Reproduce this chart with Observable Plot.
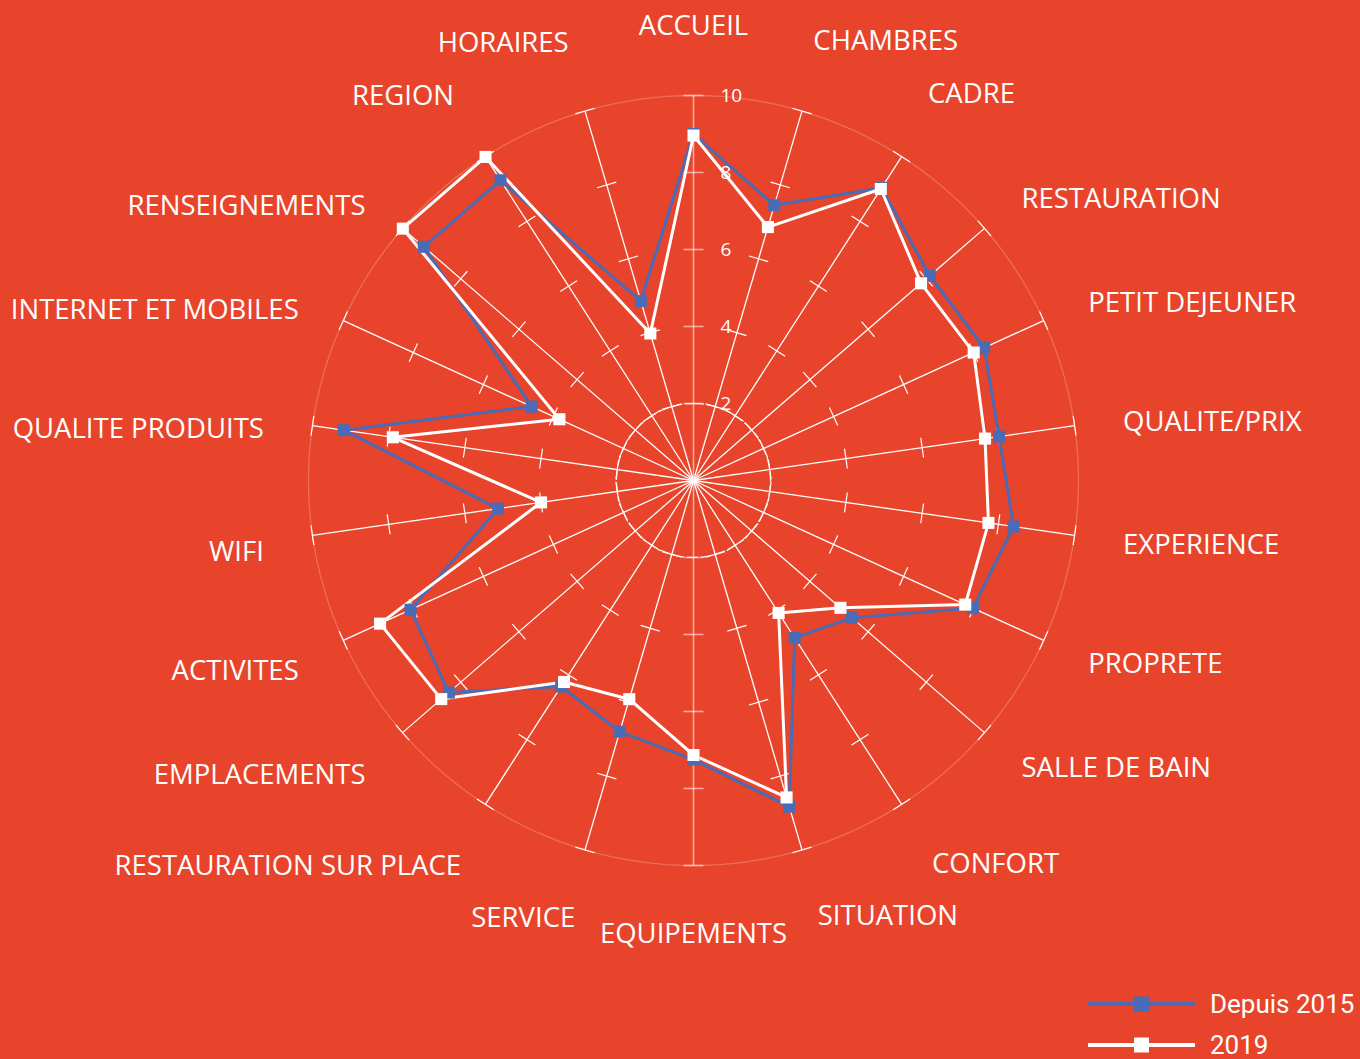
<!DOCTYPE html>
<html><head><meta charset="utf-8">
<script src="https://cdn.jsdelivr.net/npm/d3@7"></script>
<script src="https://cdn.jsdelivr.net/npm/@observablehq/plot@0.6"></script>
<style>
html,body{margin:0;padding:0;background:#E8442B;}
body{width:1360px;height:1059px;overflow:hidden;}
#chart svg{display:block;}
.legend{margin-left:1088px;font-family:Roboto,sans-serif;font-size:26px;color:#fff;}
.row{height:38px;display:flex;align-items:center;white-space:nowrap;}
.row + .row{margin-top:3px;}
.row span{margin-left:15px;}
</style></head><body>
<div id="chart"></div>
<div class="legend" id="legend"></div>
<script>
const categories = ["ACCUEIL","CHAMBRES","CADRE","RESTAURATION","PETIT DEJEUNER","QUALITE/PRIX","EXPERIENCE","PROPRETE","SALLE DE BAIN","CONFORT","SITUATION","EQUIPEMENTS","SERVICE","RESTAURATION SUR PLACE","EMPLACEMENTS","ACTIVITES","WIFI","QUALITE PRODUITS","INTERNET ET MOBILES","RENSEIGNEMENTS","REGION","HORAIRES"];
const seriesNames = ["Depuis 2015","2019"];
const depuis2015 = [9.0, 7.45, 9.03, 8.12, 8.3, 8.02, 8.4, 7.98, 5.44, 4.86, 8.83, 7.25, 6.8, 6.36, 8.41, 8.08, 5.13, 9.18, 4.62, 9.27, 9.27, 4.86];
const serie2019 = [8.96, 6.86, 9.0, 7.82, 8.0, 7.65, 7.74, 7.76, 5.05, 4.09, 8.58, 7.13, 5.92, 6.22, 8.67, 8.95, 4.0, 7.89, 3.83, 9.99, 9.99, 3.98];
const tickValues = [2, 4, 6, 8, 10];
const seriesColors = ["#4A6BB5", "#FFFFFF"];

const W = 1360, H = 985, cx = 693, cy = 480, unit = 38.5;
const n = categories.length;
const maxV = 10;
const ang = i => i * 2 * Math.PI / n;
const px = (v, i) => v * Math.sin(ang(i));
const py = (v, i) => v * Math.cos(ang(i));

const seriesValues = [depuis2015, serie2019];
const points = [];
seriesNames.forEach((s, k) => seriesValues[k].forEach((v, i) => points.push({series: s, cat: categories[i], i, value: v, x: px(v, i), y: py(v, i)})));

const circle = r => d3.range(0, 360, 2).map(a => ({x: r * Math.sin(a * Math.PI / 180), y: r * Math.cos(a * Math.PI / 180)}));

const spokes = categories.map((c, i) => ({i, vertical: i === 0 || i === n / 2, x2: px(maxV, i), y2: py(maxV, i)}));
const h = 10 / unit;
const ticks = [];
spokes.forEach(s => tickValues.forEach(t => {
  const a = ang(s.i);
  const mx = px(t, s.i), my = py(t, s.i);
  ticks.push({vertical: s.vertical, x1: mx - h * Math.cos(a), y1: my + h * Math.sin(a), x2: mx + h * Math.cos(a), y2: my - h * Math.sin(a)});
}));

// label groups (anchor choice and small offsets, like the spreadsheet's label placement)
const groupOffsets = {
  "bottom|middle": [0, -3], "bottom|start": [-5, -5], "bottom|end": [0, -3],
  "top|middle": [0, 2], "top|start": [0, 2], "top|end": [6, 4],
  "middle|start": [0, 3], "middle|end": [0, 10]
};
function group(i) {
  const deg = i * 360 / n;
  let line, anchor, R;
  if (deg < 40 || deg > 320) { line = "bottom"; R = 443; }
  else if (deg > 140 && deg < 220) { line = "top"; R = 441; }
  else { line = "middle"; R = 434; }
  if (Math.abs(Math.sin(ang(i))) < 0.05) anchor = "middle";
  else anchor = Math.sin(ang(i)) > 0 ? "start" : "end";
  return {line, anchor, R: R / unit};
}
const labels = categories.map((c, i) => { const g = group(i); return {c, i, line: g.line, anchor: g.anchor, x: px(g.R, i), y: py(g.R, i)}; });
const combos = d3.groups(labels, d => d.line + "|" + d.anchor);
const labelMarks = combos.map(([key, arr]) => Plot.text(arr, {
  x: "x", y: "y", text: "c", fill: "white", fontSize: 27.5, fontFamily: "'Open Sans', sans-serif",
  textAnchor: arr[0].anchor, lineAnchor: arr[0].line,
  dx: groupOffsets[key][0], dy: groupOffsets[key][1]
}));

const pink = "rgba(255,255,255,0.55)";
const chart = Plot.plot({
  width: W, height: H, margin: 0,
  x: {domain: [-cx / unit, (W - cx) / unit], axis: null},
  y: {domain: [-(H - cy) / unit, cy / unit], axis: null},
  color: {domain: seriesNames, range: seriesColors},
  style: {background: "transparent", overflow: "visible"},
  marks: [
    Plot.line(circle(maxV), {x: "x", y: "y", curve: "linear-closed", stroke: "white", strokeOpacity: 0.22, strokeWidth: 1.3}),
    Plot.line(circle(tickValues[0]), {x: "x", y: "y", curve: "linear-closed", stroke: "white", strokeOpacity: 0.85, strokeWidth: 1.3, strokeDasharray: "10,4"}),
    Plot.link(spokes.filter(d => !d.vertical), {x1: d => 0, y1: d => 0, x2: "x2", y2: "y2", stroke: "white", strokeWidth: 1.3}),
    Plot.link(spokes.filter(d => d.vertical), {x1: d => 0, y1: d => 0, x2: "x2", y2: "y2", stroke: pink, strokeWidth: 1.6}),
    Plot.link(ticks.filter(d => !d.vertical), {x1: "x1", y1: "y1", x2: "x2", y2: "y2", stroke: "white", strokeWidth: 1.2}),
    Plot.link(ticks.filter(d => d.vertical), {x1: "x1", y1: "y1", x2: "x2", y2: "y2", stroke: pink, strokeWidth: 1.6}),
    Plot.text(tickValues, {x: d => 0, y: d => d, dx: 27, text: d => String(d), textAnchor: "start", lineAnchor: "middle", fill: "white", fontSize: 19, fontFamily: "'Open Sans', sans-serif"}),
    Plot.line(points, {x: "x", y: "y", z: "series", stroke: "series", curve: "linear-closed", strokeWidth: 3}),
    Plot.dot(points, {x: "x", y: "y", fill: "series", symbol: "square", r: 6.8}),
    ...labelMarks
  ]
});
document.getElementById("chart").append(chart);

const legend = document.getElementById("legend");
seriesNames.forEach((s, k) => {
  const row = document.createElement("div");
  row.className = "row";
  row.innerHTML = `<svg width="107" height="16"><line x1="0" x2="107" y1="8" y2="8" stroke="${seriesColors[k]}" stroke-width="4"/><rect x="46" y="0.5" width="15" height="15" fill="${seriesColors[k]}"/></svg><span>${s}</span>`;
  legend.append(row);
});
</script>
</body></html>
